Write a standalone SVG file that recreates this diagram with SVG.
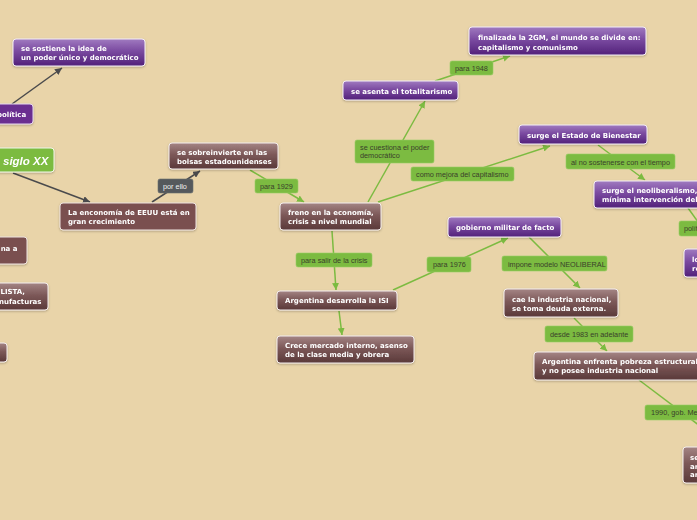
<svg xmlns="http://www.w3.org/2000/svg" width="697" height="520" viewBox="0 0 697 520">
<defs>
<style>
.bg{fill:#e9d4a9}
.pu rect{fill:url(#gPu);stroke:#f4eef6;stroke-width:1}
.puf rect{fill:#6b2d90;stroke:#e6d8ee;stroke-width:1}
.br rect{fill:url(#gBr);stroke:#f4eeee;stroke-width:1}
.brf rect{fill:#7a4f4f;stroke:#eee4e0;stroke-width:1}
.gn rect{fill:#7cbb41;stroke:#f2f7ea;stroke-width:1}
.node text{font-family:"DejaVu Sans",Verdana,sans-serif;font-weight:bold;font-size:7px;fill:#ffffff}
.lab rect{fill:#7cbb41;stroke:#98cc66;stroke-width:0.6}
.lab text{font-family:"Liberation Sans",Arial,sans-serif;font-size:7.3px;fill:#3a3f2a}
.dlab rect{fill:#55595c;stroke:#6a6e70;stroke-width:0.6}
.dlab text{font-family:"Liberation Sans",Arial,sans-serif;font-size:7.3px;fill:#f0f0f0}
.cg{stroke:#7cbb41;stroke-width:1.5;fill:none}
.cd{stroke:#4a4a4c;stroke-width:1.5;fill:none}
.big{font-family:"Liberation Sans",Arial,sans-serif;font-weight:bold;font-style:italic;font-size:11.5px;fill:#ffffff}
</style>
<linearGradient id="gPu" x1="0" y1="0" x2="0" y2="1">
<stop offset="0" stop-color="#a07ac0"/>
<stop offset="0.45" stop-color="#7a4aa0"/>
<stop offset="1" stop-color="#52217a"/>
</linearGradient>
<linearGradient id="gBr" x1="0" y1="0" x2="0" y2="1">
<stop offset="0" stop-color="#a48484"/>
<stop offset="0.45" stop-color="#7c5858"/>
<stop offset="1" stop-color="#5a3939"/>
</linearGradient>
<filter id="sh" x="-10%" y="-20%" width="120%" height="160%">
<feDropShadow dx="0" dy="1" stdDeviation="0.8" flood-color="#000" flood-opacity="0.25"/>
</filter>
<marker id="ag" viewBox="0 0 10 10" refX="10" refY="5" markerWidth="7" markerHeight="7" markerUnits="userSpaceOnUse" orient="auto">
<path d="M0,0 L10,5 L0,10 z" fill="#7cbb41"/>
</marker>
<marker id="ad" viewBox="0 0 10 10" refX="10" refY="5" markerWidth="7" markerHeight="7" markerUnits="userSpaceOnUse" orient="auto">
<path d="M0,0 L10,5 L0,10 z" fill="#4a4a4c"/>
</marker>
</defs>
<rect class="bg" x="0" y="0" width="697" height="520"/>

<g id="connectors">
<line class="cd" x1="12" y1="104" x2="62" y2="68" marker-end="url(#ad)"/>
<line class="cd" x1="13" y1="173" x2="90" y2="202" marker-end="url(#ad)"/>
<line class="cd" x1="152" y1="202" x2="200" y2="171" marker-end="url(#ad)"/>
<line class="cg" x1="250" y1="170" x2="304" y2="202" marker-end="url(#ag)"/>
<line class="cg" x1="368" y1="202" x2="425" y2="101" marker-end="url(#ag)"/>
<line class="cg" x1="378" y1="202" x2="550" y2="146" marker-end="url(#ag)"/>
<line class="cg" x1="435" y1="81" x2="510" y2="56" marker-end="url(#ag)"/>
<line class="cg" x1="598" y1="145" x2="645" y2="180" marker-end="url(#ag)"/>
<line class="cg" x1="688" y1="208" x2="706" y2="233"/>
<line class="cg" x1="332" y1="231" x2="336" y2="290" marker-end="url(#ag)"/>
<line class="cg" x1="339" y1="311" x2="342" y2="335" marker-end="url(#ag)"/>
<line class="cg" x1="393" y1="290" x2="508" y2="238" marker-end="url(#ag)"/>
<line class="cg" x1="529" y1="237" x2="580" y2="288" marker-end="url(#ag)"/>
<line class="cg" x1="574" y1="318" x2="607" y2="351" marker-end="url(#ag)"/>
<line class="cg" x1="639" y1="380" x2="708" y2="432"/>
</g>

<g id="n-sostiene" class="node pu" filter="url(#sh)"><rect x="13" y="39" width="132" height="27" rx="3"/><text x="21" y="50.5">se sostiene la idea de</text><text x="21" y="60">un poder único y democrático</text></g>
<g id="n-politica" class="node puf" filter="url(#sh)"><rect x="-10" y="104" width="43" height="20" rx="3"/><text x="-3" y="117">política</text></g>
<g id="n-siglo" class="gn" filter="url(#sh)"><rect x="-10" y="148" width="64" height="24" rx="3"/><text class="big" x="3" y="165">siglo XX</text></g>
<g id="n-sobreinvierte" class="node br" filter="url(#sh)"><rect x="169" y="143" width="109" height="26" rx="3"/><text x="177" y="154.5">se sobreinvierte en las</text><text x="177" y="163.5">bolsas estadounidenses</text></g>
<g id="n-economia" class="node brf" filter="url(#sh)"><rect x="60" y="203" width="136" height="27" rx="3"/><text x="68" y="215">La enconomía de EEUU está en</text><text x="68" y="224">gran crecimiento</text></g>
<g id="l-porello" class="dlab"><rect x="158" y="179" width="35" height="14" rx="2"/><text x="163" y="189">por ello</text></g>
<g id="l-1929" class="lab"><rect x="255" y="179" width="43" height="14" rx="2"/><text x="260" y="189">para 1929</text></g>
<g id="n-freno" class="node br" filter="url(#sh)"><rect x="280" y="203" width="101" height="27" rx="3"/><text x="288" y="214.5">freno en la economía,</text><text x="288" y="223.5">crisis a nivel mundial</text></g>
<g id="l-cuestiona" class="lab"><rect x="355" y="140" width="79" height="23" rx="2"/><text x="360" y="150">se cuestiona el poder</text><text x="360" y="158">democrático</text></g>
<g id="l-mejora" class="lab"><rect x="411" y="167" width="103" height="14" rx="2"/><text x="416" y="176.5">como mejora del capitalismo</text></g>
<g id="n-totalitarismo" class="node pu" filter="url(#sh)"><rect x="343" y="81" width="115" height="19" rx="3"/><text x="351" y="93.5">se asenta el totalitarismo</text></g>
<g id="l-1948" class="lab"><rect x="450" y="61" width="43" height="14" rx="2"/><text x="455" y="71">para 1948</text></g>
<g id="n-2gm" class="node pu" filter="url(#sh)"><rect x="469" y="27" width="177" height="28" rx="3"/><text x="478" y="40">finalizada la 2GM, el mundo se divide en:</text><text x="478" y="49.5">capitalismo y comunismo</text></g>
<g id="n-bienestar" class="node pu" filter="url(#sh)"><rect x="519" y="125" width="128" height="19" rx="3"/><text x="527" y="138">surge el Estado de Bienestar</text></g>
<g id="l-nosostenerse" class="lab"><rect x="566" y="154" width="109" height="15" rx="2"/><text x="571" y="164.5">al no sostenerse con el tiempo</text></g>
<g id="n-neoliberalismo" class="node pu" filter="url(#sh)"><rect x="594" y="181" width="130" height="27" rx="3"/><text x="602" y="192.5">surge el neoliberalismo,</text><text x="602" y="201.5">mínima intervención del</text></g>
<g id="l-polit" class="lab"><rect x="679" y="221" width="40" height="15" rx="2"/><text x="684" y="231">polít</text></g>
<g id="n-lo" class="node pu" filter="url(#sh)"><rect x="684" y="249" width="40" height="28" rx="3"/><text x="692" y="261.5">lo</text><text x="692" y="270.5">re</text></g>
<g id="n-gobierno" class="node pu" filter="url(#sh)"><rect x="448" y="217" width="113" height="20" rx="3"/><text x="456" y="229.5">gobierno militar de facto</text></g>
<g id="l-1976" class="lab"><rect x="427" y="257" width="44" height="15" rx="2"/><text x="433" y="267">para 1976</text></g>
<g id="l-impone" class="lab"><rect x="502" y="256" width="105" height="15" rx="2"/><text x="508" y="266.5">impone modelo NEOLIBERAL</text></g>
<g id="n-cae" class="node br" filter="url(#sh)"><rect x="504" y="289" width="114" height="28" rx="3"/><text x="512" y="301.5">cae la industria nacional,</text><text x="512" y="311">se toma deuda externa.</text></g>
<g id="l-1983" class="lab"><rect x="545" y="326" width="88" height="16" rx="2"/><text x="550" y="337">desde 1983 en adelante</text></g>
<g id="n-pobreza" class="node br" filter="url(#sh)"><rect x="534" y="352" width="180" height="28" rx="3"/><text x="542" y="363.5">Argentina enfrenta pobreza estructural</text><text x="542" y="372.5">y no posee industria nacional</text></g>
<g id="l-1990" class="lab"><rect x="645" y="405" width="60" height="15" rx="2"/><text x="651" y="415">1990, gob. Me</text></g>
<g id="n-se" class="node br" filter="url(#sh)"><rect x="683" y="447" width="30" height="36" rx="3"/><text x="690" y="459.5">se</text><text x="690" y="468.5">ar</text><text x="690" y="477">ar</text></g>
<g id="n-isi" class="node br" filter="url(#sh)"><rect x="277" y="291" width="120" height="19" rx="3"/><text x="285" y="303">Argentina desarrolla la ISI</text></g>
<g id="l-salir" class="lab"><rect x="296" y="253" width="76" height="14" rx="2"/><text x="301" y="263">para salir de la crisis</text></g>
<g id="n-crece" class="node br" filter="url(#sh)"><rect x="277" y="336" width="137" height="27" rx="3"/><text x="285" y="348">Crece mercado interno, asenso</text><text x="285" y="357">de la clase media y obrera</text></g>
<g id="n-naa" class="node brf" filter="url(#sh)"><rect x="-20" y="237" width="47" height="27" rx="3"/><text x="17.5" y="250.5" text-anchor="end">na a</text></g>
<g id="n-lista" class="node br" filter="url(#sh)"><rect x="-20" y="283" width="68" height="27" rx="3"/><text x="25" y="294" text-anchor="end">LISTA,</text><text x="41.5" y="303.5" text-anchor="end">nufacturas</text></g>
<g id="n-small" class="node br" filter="url(#sh)"><rect x="-20" y="343" width="27" height="19" rx="3"/></g>
</svg>
